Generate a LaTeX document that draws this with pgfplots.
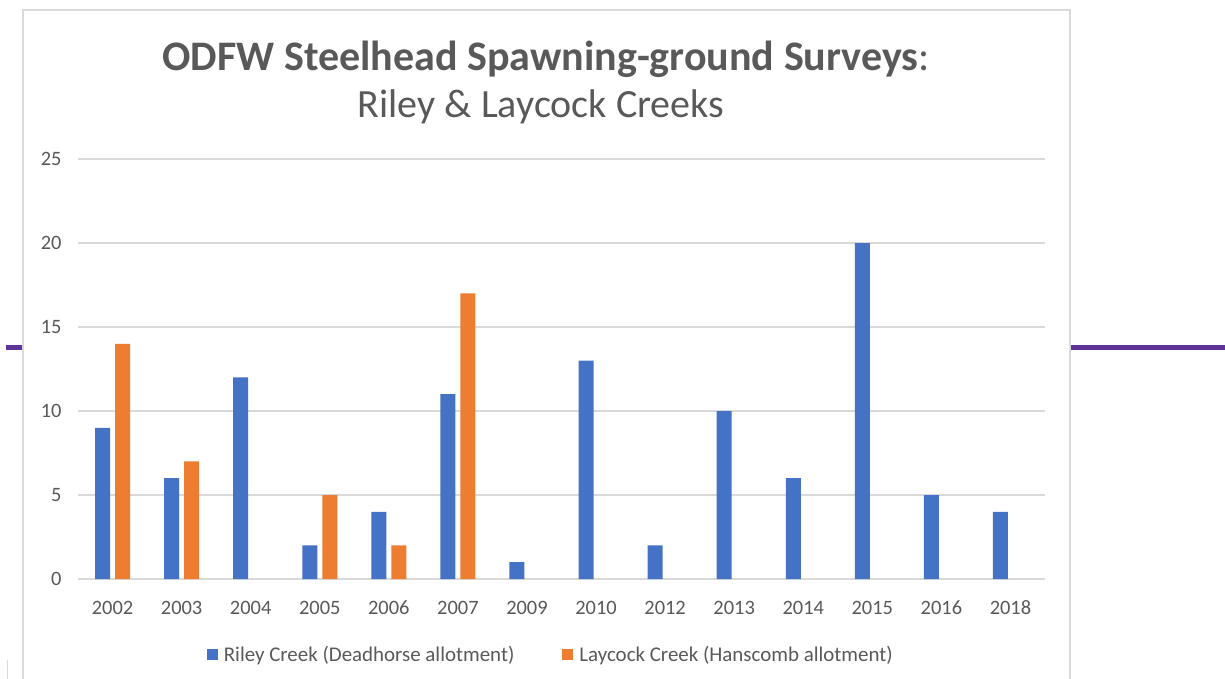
\documentclass[border=0pt]{standalone}
\usepackage{pgfplots}
\pgfplotsset{compat=1.18}
\usepackage{fontspec}
\setmainfont{Carlito}
\definecolor{rileyblue}{HTML}{4472C4}
\definecolor{laycockorange}{HTML}{ED7D31}
\definecolor{txtgray}{HTML}{595959}
\definecolor{gridgray}{HTML}{D9D9D9}
\definecolor{framegray}{HTML}{D9D9D9}
\definecolor{slidepurple}{HTML}{5F3398}
\begin{document}
\begin{tikzpicture}
\useasboundingbox (0bp,0bp) rectangle (1225bp,-679bp);
\fill[white] (0bp,0bp) rectangle (1225bp,-679bp);
% slide decorations
\draw[framegray, line width=1.5bp] (23bp,-679bp) -- (23bp,-10bp) -- (1070bp,-10bp) -- (1070bp,-679bp);
\draw[slidepurple, line width=5bp] (6bp,-347.5bp) -- (22bp,-347.5bp);
\draw[slidepurple, line width=5bp] (1071bp,-347.5bp) -- (1225bp,-347.5bp);
\draw[framegray, line width=1bp] (7bp,-660bp) -- (7bp,-679bp);
% title
\node[anchor=base, text=txtgray, inner sep=0pt] at (546bp,-70bp)
  {\fontsize{42.2}{48}\selectfont\bfseries ODFW Steelhead Spawning-ground Surveys\mdseries:};
\node[anchor=base, text=txtgray, inner sep=0pt] at (541bp,-117bp)
  {\fontsize{40.2}{48}\selectfont Riley \& Laycock Creeks};
\begin{axis}[
  at={(78bp,-579bp)}, anchor=south west,
  scale only axis, width=967bp, height=420bp,
  ybar=5bp, bar width=15bp,
  xmin=-0.5, xmax=13.5, ymin=0, ymax=25,
  xtick={0,...,13},
  xticklabels={2002,2003,2004,2005,2006,2007,2009,2010,2012,2013,2014,2015,2016,2018},
  ytick={0,5,10,15,20,25},
  ymajorgrids,
  grid style={draw=gridgray, line width=1.2bp},
  axis line style={draw=none},
  major tick length=0pt,
  tick label style={text=txtgray, font=\fontsize{20.5}{24}\selectfont},
  /pgf/number format/assume math mode=true,
  xticklabel style={anchor=base, yshift=-35bp},
  yticklabel style={xshift=-13bp},
  legend columns=2,
  legend style={at={(0.491,-0.18)}, anchor=center, draw=none, fill=none,
    font=\fontsize{21}{24}\selectfont, text=txtgray,
    /tikz/every even column/.append style={column sep=42bp},
    nodes={inner sep=6bp}},
  legend image code/.code={\fill[#1] (0bp,-5.5bp) rectangle (11bp,5.5bp);},
  clip=false,
]
\addplot[fill=rileyblue, draw=none] coordinates {
  (0,9) (1,6) (2,12) (3,2) (4,4) (5,11) (6,1) (7,13) (8,2) (9,10) (10,6) (11,20) (12,5) (13,4)};
\addplot[fill=laycockorange, draw=none] coordinates {
  (0,14) (1,7) (3,5) (4,2) (5,17)};
\legend{Riley Creek (Deadhorse allotment), Laycock Creek (Hanscomb allotment)}
\end{axis}
\end{tikzpicture}
\end{document}
